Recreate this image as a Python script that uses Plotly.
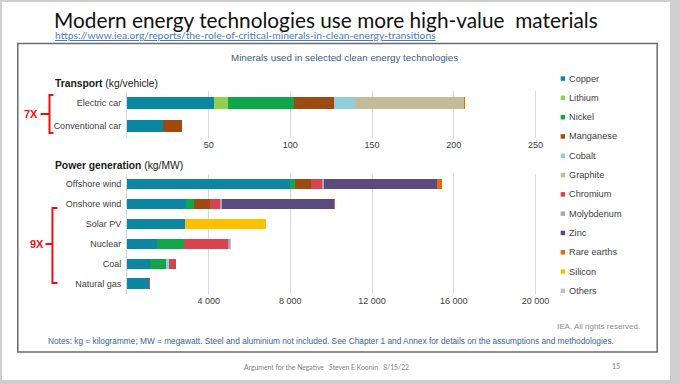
import plotly.graph_objects as go

W, H = 680, 384

# ---------------- data ----------------
minerals = ["Copper", "Lithium", "Nickel", "Manganese", "Cobalt", "Graphite",
            "Chromium", "Molybdenum", "Zinc", "Rare earths", "Silicon", "Others"]
colors = ["#0b87a1", "#92d050", "#12a64a", "#9e4a12", "#92cddc", "#c4bc96",
          "#d5444f", "#aca4bb", "#5b4a80", "#e36c0a", "#ffc000", "#bfbfbf"]

transport_cats = ["Electric car", "Conventional car"]
transport_vals = {
    "Copper":      [53.2, 22.3],
    "Lithium":     [8.9, 0],
    "Nickel":      [39.9, 0],
    "Manganese":   [24.5, 11.2],
    "Cobalt":      [13.3, 0],
    "Graphite":    [66.3, 0],
    "Chromium":    [0, 0],
    "Molybdenum":  [0, 0],
    "Zinc":        [0, 0],
    "Rare earths": [0.5, 0],
    "Silicon":     [0, 0],
    "Others":      [0.3, 0],
}

power_cats = ["Offshore wind", "Onshore wind", "Solar PV", "Nuclear", "Coal", "Natural gas"]
power_vals = {
    "Copper":      [8000, 2900, 2822, 1473, 1130, 1100],
    "Lithium":     [0, 0, 0, 0, 0, 0],
    "Nickel":      [240, 404, 0, 1297, 760, 0],
    "Manganese":   [790, 780, 0, 0, 0, 0],
    "Cobalt":      [0, 0, 0, 0, 180, 0],
    "Graphite":    [0, 0, 0, 0, 0, 0],
    "Chromium":    [525, 470, 0, 2190, 320, 48],
    "Molybdenum":  [109, 99, 0, 70, 0, 0],
    "Zinc":        [5500, 5500, 0, 0, 0, 0],
    "Rare earths": [239, 14, 0, 0, 0, 0],
    "Silicon":     [0, 0, 3990, 0, 0, 0],
    "Others":      [0, 0, 0, 70, 0, 0],
}

transport_ticks = [0, 50, 100, 150, 200, 250]
transport_ticktext = ["", "50", "100", "150", "200", "250"]
power_ticks = [0, 4000, 8000, 12000, 16000, 20000]
power_ticktext = ["", "4 000", "8 000", "12 000", "16 000", "20 000"]

# ---------------- helpers ----------------
def px(x):
    return x / W

def py(y):
    return 1 - y / H

CHART_FONT = "Liberation Sans, Arial, sans-serif"
SLIDE_FONT = "Lato, Open Sans, sans-serif"

fig = go.Figure()

for m, c in zip(minerals, colors):
    fig.add_trace(go.Bar(
        y=transport_cats, x=transport_vals[m], orientation="h", name=m,
        marker=dict(color=c, line=dict(width=0)), showlegend=False,
        xaxis="x", yaxis="y"))
    fig.add_trace(go.Bar(
        y=power_cats, x=power_vals[m], orientation="h", name=m,
        marker=dict(color=c, line=dict(width=0)), showlegend=False,
        xaxis="x2", yaxis="y2"))

# axis geometry (pixels)
X0 = 128.3
X_END = 548.0
T_PPU = (541.0 - X0) / 250.0
P_PPU = (541.0 - X0) / 20000.0

grid = "#d9d9d9"
tickfont = dict(family=CHART_FONT, size=9, color="#404040")
catfont = dict(family=CHART_FONT, size=9, color="#404040")

fig.update_layout(
    width=W, height=H,
    margin=dict(l=0, r=0, t=0, b=0),
    paper_bgcolor="#cfcfcf",
    plot_bgcolor="rgba(0,0,0,0)",
    barmode="stack",
    bargap=0.49,
    showlegend=False,
    xaxis=dict(domain=[px(X0), px(X_END)], range=[0, (X_END - X0) / T_PPU],
               anchor="y", tickvals=transport_ticks, ticktext=transport_ticktext,
               showgrid=True, gridcolor=grid, gridwidth=1,
               zeroline=True, zerolinecolor=grid, zerolinewidth=1,
               showline=False, ticks="", tickfont=tickfont, fixedrange=True),
    yaxis=dict(domain=[py(137.5), py(91.0)], anchor="x",
               categoryorder="array", categoryarray=transport_cats,
               autorange="reversed", showgrid=False, zeroline=False,
               ticks="outside", ticklen=3, tickcolor="rgba(0,0,0,0)",
               tickfont=catfont, fixedrange=True),
    xaxis2=dict(domain=[px(X0), px(X_END)], range=[0, (X_END - X0) / P_PPU],
                anchor="y2", tickvals=power_ticks, ticktext=power_ticktext,
                showgrid=True, gridcolor=grid, gridwidth=1,
                zeroline=True, zerolinecolor=grid, zerolinewidth=1,
                showline=False, ticks="", tickfont=tickfont, fixedrange=True),
    yaxis2=dict(domain=[py(293.5), py(174.0)], anchor="x2",
                categoryorder="array", categoryarray=power_cats,
                autorange="reversed", showgrid=False, zeroline=False,
                ticks="outside", ticklen=3, tickcolor="rgba(0,0,0,0)",
                tickfont=catfont, fixedrange=True),
)

shapes = []
# slide white area
shapes.append(dict(type="rect", xref="paper", yref="paper",
                   x0=px(2), x1=px(677), y0=py(380), y1=py(2),
                   fillcolor="white", line=dict(width=0), layer="below"))
# chart box
shapes.append(dict(type="rect", xref="paper", yref="paper",
                   x0=px(18), x1=px(664), y0=py(352), y1=py(43.5),
                   fillcolor="rgba(0,0,0,0)", line=dict(color="#6b6b6b", width=1.5),
                   layer="below"))

def path(points):
    return "M " + " L ".join(f"{px(x):.5f},{py(y):.5f}" for x, y in points)

red = "#e81010"
shapes.append(dict(type="path", xref="paper", yref="paper",
                   path=path([(54, 95), (50, 95), (50, 133), (54, 133)]),
                   line=dict(color=red, width=2)))
shapes.append(dict(type="path", xref="paper", yref="paper",
                   path=path([(41, 114), (50, 114)]), line=dict(color=red, width=2)))
shapes.append(dict(type="path", xref="paper", yref="paper",
                   path=path([(58, 208), (53, 208), (53, 283), (58, 283)]),
                   line=dict(color=red, width=2)))
shapes.append(dict(type="path", xref="paper", yref="paper",
                   path=path([(46, 244), (53, 244)]), line=dict(color=red, width=2)))

annotations = []

def ann(text, x, y, size, color, family=CHART_FONT, xanchor="left", yanchor="middle"):
    annotations.append(dict(text=text, x=px(x), y=py(y), xref="paper", yref="paper",
                            showarrow=False, xanchor=xanchor, yanchor=yanchor,
                            borderpad=0,
                            font=dict(family=family, size=size, color=color)))

ann("Modern energy technologies use more high-value  materials", 54, 19.5, 20.8,
    "#111111", family=SLIDE_FONT)
ann("<u>https://www.iea.org/reports/the-role-of-critical-minerals-in-clean-energy-transitions</u>",
    55, 35.5, 10.3, "#4a7cc0", family=SLIDE_FONT)
ann("Minerals used in selected clean energy technologies", 348, 57, 9.8, "#3c5a8a",
    xanchor="center")
ann("<b>Transport</b> (kg/vehicle)", 55, 83, 10.3, "#1a1a1a")
ann("<b>Power generation</b> (kg/MW)", 55, 165, 10.3, "#1a1a1a")
ann("<b>7X</b>", 31, 114, 11, red, xanchor="center")
ann("<b>9X</b>", 37, 244, 11, red, xanchor="center")
ann("IEA. All rights reserved.", 648, 326, 8, "#8c8c8c", xanchor="right")
ann("Notes: kg = kilogramme; MW = megawatt. Steel and aluminium not included. "
    "See Chapter 1 and Annex for details on the assumptions and methodologies.",
    47, 341, 8.3, "#3a5fa0")
ann("Argument for the Negative   Steven E Koonin   8/15/22", 330, 367, 6.8, "#7f7f7f",
    family=SLIDE_FONT, xanchor="center")
ann("15", 622, 366, 7, "#7f7f7f", family=SLIDE_FONT, xanchor="center")

# legend (custom)
LEG_Y0 = 78.5
LEG_DY = 19.3
for i, (m, c) in enumerate(zip(minerals, colors)):
    yy = LEG_Y0 + i * LEG_DY
    shapes.append(dict(type="rect", xref="paper", yref="paper",
                       x0=px(566.5), x1=px(571), y0=py(yy + 2.3), y1=py(yy - 2.2),
                       fillcolor=c, line=dict(width=0)))
    ann(m, 574, yy, 9.2, "#404040")

fig.update_layout(shapes=shapes, annotations=annotations)

fig.write_html("out.html",
               config={"displayModeBar": False, "staticPlot": True},
               post_script="document.body.style.margin='0';document.body.style.overflow='hidden';")
